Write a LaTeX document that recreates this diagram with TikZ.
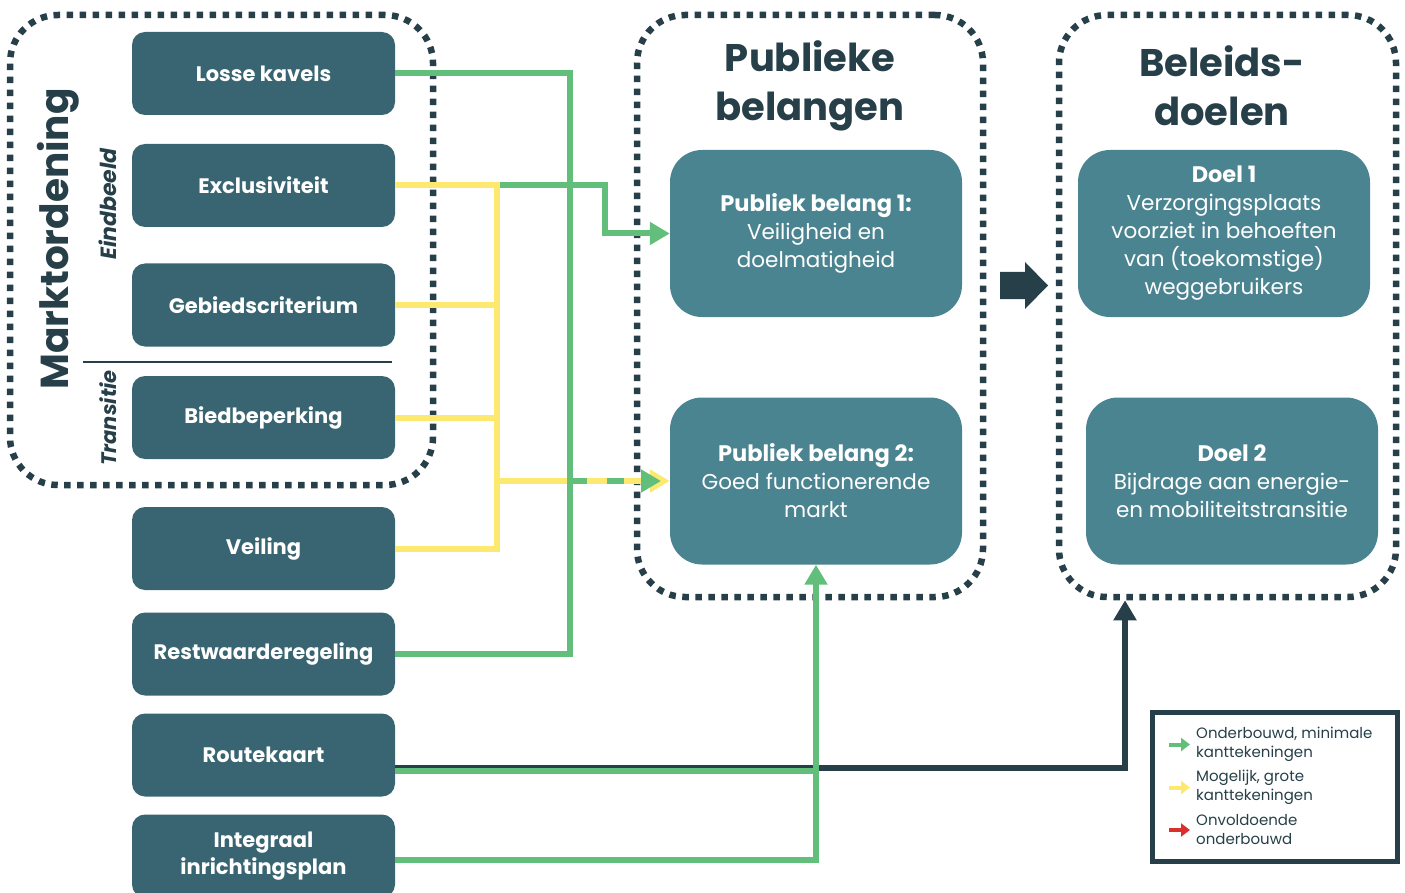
\documentclass[tikz,border=0pt]{standalone}
\usepackage{fontspec}
\setmainfont{Poppins}
\usetikzlibrary{arrows.meta,calc}
\definecolor{boxdark}{HTML}{386571}
\definecolor{boxlight}{HTML}{4B8491}
\definecolor{ink}{HTML}{263F48}
\definecolor{lgreen}{HTML}{62BF7B}
\definecolor{lyellow}{HTML}{FDE870}
\definecolor{lred}{HTML}{D9302C}
\newcommand{\hd}[1]{{\fontsize{22.5}{28}\selectfont\bfseries #1}}
\begin{document}
\begin{tikzpicture}[x=1pt,y=-1pt,
 mbox/.style={fill=boxdark, rounded corners=13pt, minimum width=263pt, minimum height=83pt, text=white, font=\fontsize{21}{27}\selectfont\bfseries, align=center, inner sep=0pt},
 pbox/.style={fill=boxlight, rounded corners=32pt, minimum width=292pt, minimum height=167pt, text=white, font=\fontsize{21.5}{28}\selectfont, align=center, inner sep=0pt},
 container/.style={draw=ink, line width=6.5pt, dash pattern=on 6.5pt off 6.5pt, rounded corners=48pt, inner sep=0pt},
 title/.style={text=ink, font=\fontsize{38.5}{49}\selectfont\bfseries, align=center},
 side/.style={rotate=90, anchor=base, text=ink},
 gline/.style={draw=lgreen, line width=6pt},
 yline/.style={draw=lyellow, line width=6pt},
 dline/.style={draw=ink, line width=6pt},
 tip/.style={-{Triangle[length=20pt,width=22pt]}},
 legtxt/.style={anchor=west, align=left, text=ink, font=\fontsize{15}{19}\selectfont, inner sep=0pt},
]
\useasboundingbox (0,0) rectangle (1405,893);

% containers
\node[container, minimum width=423pt, minimum height=470pt] (c1) at (221.5,250) {};
\node[container, minimum width=346pt, minimum height=582pt] (c2) at (810,306) {};
\node[container, minimum width=337pt, minimum height=582pt] (c3) at (1227.5,306) {};

% side labels
\node[side, font=\fontsize{39}{39}\selectfont\bfseries] (mo) at (68,239) {Marktordening};
\node[side, font=\fontsize{22}{22}\selectfont\bfseries\itshape] (eb) at (116,204) {Eindbeeld};
\node[side, font=\fontsize{21}{21}\selectfont\bfseries\itshape] (tr) at (116,418) {Transitie};
\draw[ink, line width=2pt] (83,362) -- (392,362);

% titles
\node[title] (t1) at (810,86) {Publieke\\belangen};
\node[title] (t2) at (1222,86) {Beleids-\\doelen};

% left boxes
\node[mbox] (lk) at (263.5,73.5) {Losse kavels};
\node[mbox] (ex) at (263.5,185.5) {Exclusiviteit};
\node[mbox] (gc) at (263.5,305) {Gebiedscriterium};
\node[mbox] (bb) at (263.5,417.5) {Biedbeperking};
\node[mbox] (ve) at (263.5,548.5) {Veiling};
\node[mbox] (rw) at (263.5,654) {Restwaarderegeling};
\node[mbox] (rk) at (263.5,755) {Routekaart};
\node[mbox] (ip) at (263.5,856) {Integraal\\inrichtingsplan};

% right boxes
\node[pbox] (pb1) at (816,233.5) {\hd{Publiek belang 1:}\\Veiligheid en\\doelmatigheid};
\node[pbox] (pb2) at (816,481) {\hd{Publiek belang 2:}\\Goed functionerende\\markt};
\node[pbox] (d1) at (1224,233.5) {\hd{Doel 1}\\Verzorgingsplaats\\voorziet in behoeften\\van (toekomstige)\\weggebruikers};
\node[pbox] (d2) at (1232,481) {\hd{Doel 2}\\Bijdrage aan energie-\\en mobiliteitstransitie};

% big arrow
\fill[ink] (1000,272) -- (1025,272) -- (1025,262) -- (1048,285.5) -- (1025,309) -- (1025,299) -- (1000,299) -- cycle;

% junction coordinates
\coordinate (yj) at (497,548.5);
\coordinate (gj) at (570,654);
\coordinate (gk) at (605,233.5);
\coordinate (gtip) at (661,481);
\coordinate (ij) at (816,860);
\coordinate (rg) at (816,771);
\coordinate (rj) at (1125,768);

% connectors
\draw[gline, tip] (ex.east -| yj) -| (gk) -- (pb1.west);
\draw[yline] (ex.east) -| (yj) -- (ve.east);
\draw[yline] (gc.east) -- (gc.east -| yj);
\draw[yline] (bb.east) -- (bb.east -| yj);
\draw[yline, tip] (pb2.west -| yj) -- (pb2.west);
\draw[gline] (lk.east) -| (gj) -- (rw.east);
\draw[gline, dash pattern=on 17pt off 20pt, -{Triangle[length=20pt,width=22pt]}] (pb2.west -| gj) -- (gtip);
\draw[dline, tip] (rk.east |- rj) -- (rj) -- (rj |- c3.south);
\draw[gline] (rk.east |- rg) -- (rg);
\draw[gline, tip] (ip.east |- ij) -| (pb2.south);

% legend
\node[draw=ink, line width=5pt, minimum width=245pt, minimum height=149pt, inner sep=0pt] (leg) at (1274.5,787) {};
\node[legtxt] (l1) at (1196,744.5) {Onderbouwd, minimale\\kanttekeningen};
\node[legtxt] (l2) at (1196,787.5) {Mogelijk, grote\\kanttekeningen};
\node[legtxt] (l3) at (1196,830) {Onvoldoende\\onderbouwd};
\draw[lgreen, line width=4pt, -{Triangle[length=9pt,width=13pt]}] ($(l1.west)+(-27,0)$) -- ($(l1.west)+(-6,0)$);
\draw[lyellow, line width=4pt, -{Triangle[length=9pt,width=13pt]}] ($(l2.west)+(-27,0)$) -- ($(l2.west)+(-6,0)$);
\draw[lred, line width=4pt, -{Triangle[length=9pt,width=13pt]}] ($(l3.west)+(-27,0)$) -- ($(l3.west)+(-6,0)$);
\end{tikzpicture}
\end{document}
